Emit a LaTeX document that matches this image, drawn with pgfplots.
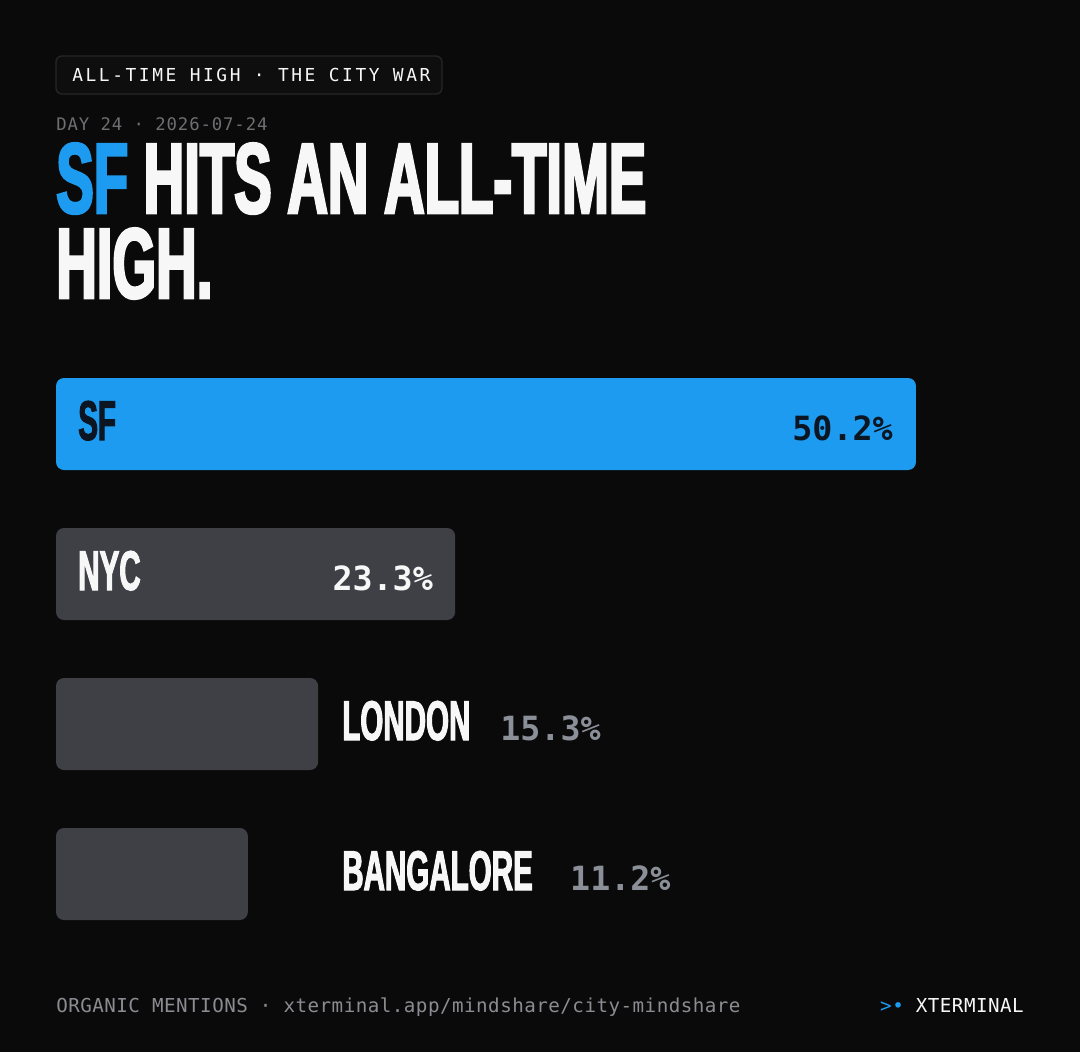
\documentclass[border=0pt]{standalone}
\usepackage{pgfplots}
\pgfplotsset{compat=1.18}
\usepackage{fontspec}
\setmainfont{Liberation Sans}
\newfontfamily\anton{Liberation Sans}[FakeStretch=0.562, BoldFeatures={FakeBold=2.5}]
\newfontfamily\antonbar{Liberation Sans}[FakeStretch=0.528, BoldFeatures={FakeBold=1.8}]
\newfontfamily\monotag{DejaVu Sans Mono}[LetterSpace=14.5]
\newfontfamily\monoday{DejaVu Sans Mono}[LetterSpace=5]
\newfontfamily\monofoot{DejaVu Sans Mono}[LetterSpace=2.5]
\newfontfamily\monoval{DejaVu Sans Mono}
\definecolor{bgc}{HTML}{0A0A0A}
\definecolor{sfblue}{HTML}{1D9BF0}
\definecolor{bargray}{HTML}{3F3F46}
\definecolor{sfdark}{HTML}{0B1622}
\definecolor{valgray}{HTML}{8A8F98}
\definecolor{daygray}{HTML}{6E6E73}
\definecolor{footgray}{HTML}{8B8B92}
\definecolor{offwhite}{HTML}{F7F7F7}
\definecolor{tagborder}{HTML}{26262A}
\definecolor{tagfill}{HTML}{0E0E0F}
\newcommand{\titlefont}{\anton\bfseries\fontsize{75pt}{63.75pt}\selectfont}
\newcommand{\barfont}{\antonbar\bfseries\fontsize{42pt}{42pt}\selectfont}
\newcommand{\valfont}{\monoval\bfseries\fontsize{25pt}{25pt}\selectfont}
\begin{document}
\begin{tikzpicture}[x=0.75pt,y=-0.75pt]
\fill[bgc] (0,0) rectangle (1080,1052);
% tag
\draw[tagborder, fill=tagfill, line width=1pt, rounded corners=4.5pt] (56,56) rectangle (442,94);
\node[anchor=base west, inner sep=0, text=offwhite] at (72,82) {\monotag\fontsize{13.4pt}{13.4pt}\selectfont ALL-TIME HIGH · THE CITY WAR};
% date
\node[anchor=base west, inner sep=0, text depth=0pt, text=daygray] at (56,131) {\monoday\fontsize{13pt}{13pt}\selectfont DAY 24 · 2026-07-24};
% title
\node[anchor=base west, inner sep=0, text height=53pt, text depth=0pt, text=offwhite] at (56,213) {\titlefont\textcolor{sfblue}{SF} HITS AN ALL-TIME};
\node[anchor=base west, inner sep=0, text height=53pt, text depth=0pt, text=offwhite] at (56,298) {\titlefont HIGH.};
% footer
\node[anchor=base west, inner sep=0, text=footgray] at (56,1012) {\monofoot\fontsize{14.4pt}{14.4pt}\selectfont ORGANIC MENTIONS · xterminal.app/mindshare/city-mindshare};
\node[anchor=base east, inner sep=0, text=offwhite] at (1024,1012) {\monofoot\fontsize{14.4pt}{14.4pt}\selectfont\textcolor{sfblue}{>•} XTERMINAL};
\begin{axis}[
  at={(42pt,-690pt)}, anchor=south west,
  scale only axis, width=726pt, height=406.5pt,
  xmin=0, xmax=56.506, ymin=-0.30667, ymax=3.30667,
  axis lines=none, clip=false,
  xbar, bar width=69pt, bar shift=0pt,
]
\addplot[fill=sfblue, draw=none, rounded corners=6pt] coordinates {(50.2,3)};
\addplot[fill=bargray, draw=none, rounded corners=6pt] coordinates {(23.3,2)};
\addplot[fill=bargray, draw=none, rounded corners=6pt] coordinates {(15.3,1)};
\addplot[fill=bargray, draw=none, rounded corners=6pt] coordinates {(11.2,0)};
% labels
\node[anchor=base west, inner sep=0, text=sfdark, xshift=16.5pt, yshift=-12pt] at (axis cs:0,3) {\barfont SF};
\node[anchor=base east, inner sep=0, text=sfdark, xshift=-17.25pt, yshift=-12pt] at (axis cs:50.2,3) {\valfont 50.2\%};
\node[anchor=base west, inner sep=0, text=offwhite, xshift=16.5pt, yshift=-12pt] at (axis cs:0,2) {\barfont NYC};
\node[anchor=base east, inner sep=0, text=offwhite, xshift=-16.5pt, yshift=-12pt] at (axis cs:23.3,2) {\valfont 23.3\%};
\node[anchor=base west, inner sep=0, text=offwhite, yshift=-12pt] at (axis cs:16.695,1) {\barfont LONDON};
\node[anchor=base west, inner sep=0, text=valgray, yshift=-12pt] at (axis cs:25.92,1) {\valfont 15.3\%};
\node[anchor=base west, inner sep=0, text=offwhite, yshift=-12pt] at (axis cs:16.695,0) {\barfont BANGALORE};
\node[anchor=base west, inner sep=0, text=valgray, yshift=-12pt] at (axis cs:30.00,0) {\valfont 11.2\%};
\end{axis}
\end{tikzpicture}
\end{document}
